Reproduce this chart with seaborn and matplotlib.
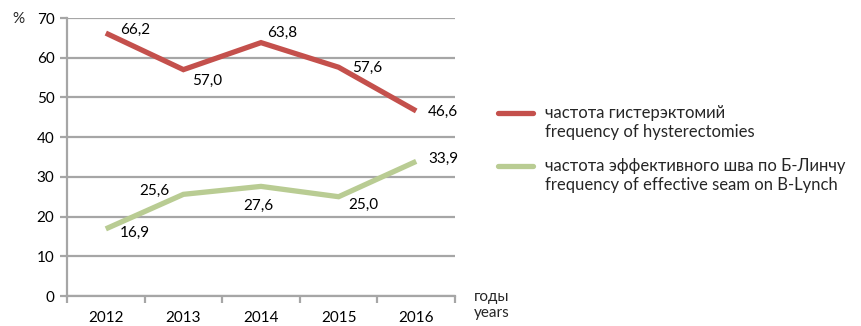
import matplotlib
matplotlib.use("Agg")
import matplotlib.pyplot as plt
from matplotlib.lines import Line2D
import seaborn as sns
import pandas as pd

years = ["2012", "2013", "2014", "2015", "2016"]
hysterectomy = [66.2, 57.0, 63.8, 57.6, 46.6]
blynch = [16.9, 25.6, 27.6, 25.0, 33.9]
series_names = ["частота гистерэктомий\nfrequency of hysterectomies",
                "частота эффективного шва по Б-Линчу\nfrequency of effective seam on B-Lynch"]
colors = ["#C4504C", "#B9CC93"]

sns.set_theme(style="white")
plt.rcParams['font.family'] = ['Lato', 'DejaVu Sans']
FS = 11

df = pd.DataFrame({
    "x": list(range(len(years))) * 2,
    "value": hysterectomy + blynch,
    "series": [series_names[0]] * len(years) + [series_names[1]] * len(years),
})

fig = plt.figure(figsize=(8.61, 3.26), dpi=100)
ax = fig.add_axes([67/861, 1 - 296/326, (455-67)/861, (296-18)/326])

sns.lineplot(data=df, x="x", y="value", hue="series", palette=colors,
             linewidth=3.8, ax=ax, legend=False, zorder=3)
for l in ax.lines:
    l.set_solid_capstyle("butt")
    l.set_solid_joinstyle("miter")

ax.set_xlim(-0.5, len(years) - 0.5)
ax.set_ylim(0, 70)
ax.set_yticks(range(0, 71, 10))
ax.set_xticks(range(len(years)))
ax.set_xticklabels(years)
ax.set_xticks([i - 0.5 for i in range(len(years) + 1)], minor=True)
ax.set_xlabel("")
ax.set_ylabel("")
gridc = "#A6A6A6"
ax.yaxis.grid(True, color=gridc, linewidth=1.6)
ax.set_axisbelow(True)
for s in ["top", "right"]:
    ax.spines[s].set_visible(False)
for s in ["left", "bottom"]:
    ax.spines[s].set_color(gridc)
    ax.spines[s].set_linewidth(1.6)
ax.tick_params(axis="y", which="major", left=True, length=5, width=1.6, color=gridc,
               labelsize=FS, labelcolor="black", pad=4)
ax.tick_params(axis="x", which="major", bottom=False, labelsize=FS, labelcolor="black", pad=5)
ax.tick_params(axis="x", which="minor", bottom=True, length=5, width=1.6, color=gridc)

# value labels: (dx, dy) pixel offsets and alignment
red_off = [(14, 3, "left"), (9, -11, "left"), (6, 10, "left"), (14, -1, "left"), (12, -1, "left")]
green_off = [(14, -4, "left"), (-14, 3, "right"), (-3, -20, "center"), (10, -8, "left"), (12, 2, "left")]
for vals, offs in [(hysterectomy, red_off), (blynch, green_off)]:
    for i, (v, (dx, dy, ha)) in enumerate(zip(vals, offs)):
        ax.annotate(f"{v:.1f}".replace(".", ","), (i, v), xytext=(dx, dy),
                    textcoords="offset pixels", ha=ha, va="center", fontsize=FS,
                    color="black", zorder=4)

fig.text(18/861, 1 - 19/326, "%", ha="center", va="center", fontsize=FS)
fig.text(492/861, 1 - 305/326, "годы\nyears", ha="center", va="center",
         fontsize=FS, linespacing=1.25)

# legend
leg_y = [113, 166]
for c, name, y in zip(colors, series_names, leg_y):
    fig.add_artist(Line2D([498/861, 533/861], [1 - y/326, 1 - y/326],
                          color=c, linewidth=3.8, transform=fig.transFigure))
    fig.text(545/861, 1 - (y - 8)/326, name, ha="left", va="top", fontsize=12,
             linespacing=1.2)

fig.savefig("out.png", dpi=100)
